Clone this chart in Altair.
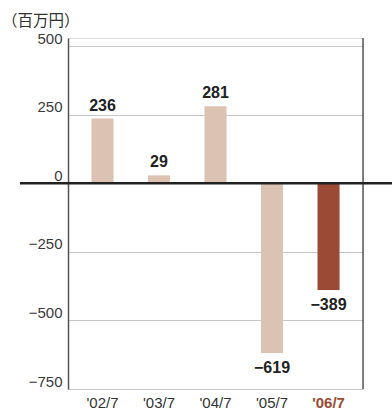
import altair as alt
import pandas as pd

periods = ["'02/7", "'03/7", "'04/7", "'05/7", "'06/7"]
values = [236, 29, 281, -619, -389]
highlight = [False, False, False, False, True]
y_ticks = [500, 250, 0, -250, -500, -750]

df = pd.DataFrame({"period": periods, "value": values, "hl": highlight})

FONT = "Liberation Sans"
LIGHT = "#dcc2b2"
DARK = "#9b4a35"

x = alt.X(
    "period:N",
    sort=periods,
    scale=alt.Scale(paddingInner=0.61, paddingOuter=0.415),
    axis=alt.Axis(
        title=None, domain=False, ticks=False, labelAngle=0, labelPadding=6,
        labelFont=FONT, labelFontSize=15,
        labelColor=alt.expr("datum.value === \"'06/7\" ? '#9b4a35' : '#333333'"),
        labelFontWeight=alt.expr("datum.value === \"'06/7\" ? 'bold' : 'normal'"),
    ),
)
y = alt.Y(
    "value:Q",
    scale=alt.Scale(domain=[-750, 530], nice=False, zero=False),
    axis=alt.Axis(
        title=None, values=y_ticks, ticks=False, labelPadding=6,
        labelFont=FONT, labelFontSize=15, labelColor="#3a3a3a",
        labelBaseline="alphabetic", labelOffset=-3,
        domainColor="#555555", domainWidth=1.5,
        gridColor="#c8c8c8", gridWidth=1,
    ),
)

base = alt.Chart(df)

bars = base.mark_bar().encode(
    x=x, y=y,
    color=alt.Color("hl:N", scale=alt.Scale(domain=[False, True], range=[LIGHT, DARK]), legend=None),
)

label_style = dict(font=FONT, fontSize=16, fontWeight="bold", color="#222222")

pos_labels = base.transform_filter("datum.value >= 0").mark_text(
    baseline="bottom", dy=-5, **label_style
).encode(x=alt.X("period:N", sort=periods), y="value:Q", text=alt.Text("value:Q", format="d"))

neg_labels = base.transform_filter("datum.value < 0").mark_text(
    baseline="top", dy=7, **label_style
).encode(x=alt.X("period:N", sort=periods), y="value:Q", text=alt.Text("value:Q", format="d"))

zero_line = alt.Chart(pd.DataFrame({"v": [0]})).mark_rule(
    color="#222222", strokeWidth=2.5, clip=False
).encode(y="v:Q", x=alt.value(-48), x2=alt.value(324))

right_border = alt.Chart(pd.DataFrame({"v": [0]})).mark_rule(
    color="#333333", strokeWidth=1.2
).encode(x=alt.value(295), y=alt.value(0), y2=alt.value(351))

unit = alt.Chart(pd.DataFrame({"t": ["（百万円）"]})).mark_text(
    align="left", baseline="middle", font="Noto Sans CJK JP", fontSize=15.5, color="#333333"
).encode(text="t:N", x=alt.value(-66), y=alt.value(-17))

chart = alt.layer(bars, right_border, zero_line, pos_labels, neg_labels, unit).properties(
    width=295, height=351,
    padding={"left": 68, "top": 38, "right": 29, "bottom": 21},
    autosize=alt.AutoSizeParams(type="none"),
).configure_view(stroke=None).configure(background="white")

chart.save("out.html", embed_options={"renderer": "svg", "actions": False})
